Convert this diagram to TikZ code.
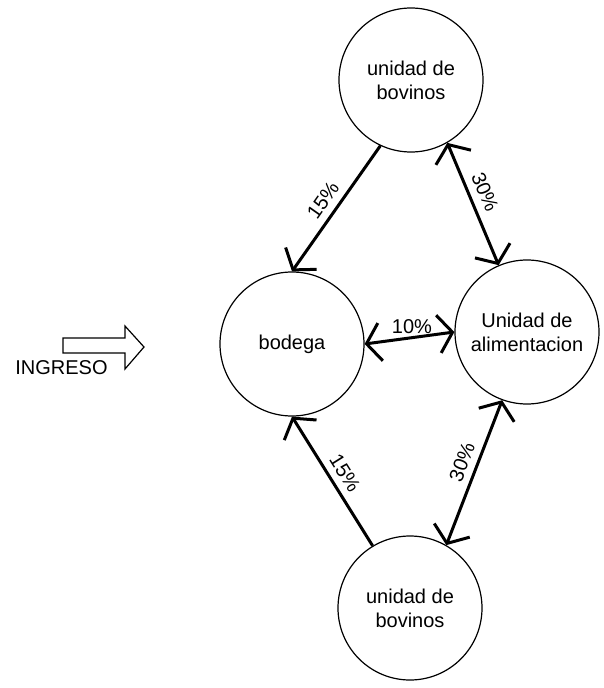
\documentclass[tikz,border=0pt]{standalone}
\usepackage{fontspec}
\setmainfont{Liberation Sans}
\usetikzlibrary{arrows.meta}
\begin{document}
\begin{tikzpicture}[x=1pt,y=-1pt,
  unit/.style={circle,draw,line width=1.2pt,minimum size=144pt,inner sep=0pt,align=center,font=\fontsize{20}{24}\selectfont},
  barb/.tip={Straight Barb[length=14pt,width=38pt]},
  flow/.style={line width=3pt,-barb},
  both/.style={line width=3pt,barb-barb},
  pct/.style={font=\fontsize{20}{24}\selectfont,inner sep=0pt},
  blockarrow/.style={draw,line width=1.2pt,line join=miter}]
\useasboundingbox (0,0) rectangle (603,688);
\node[unit] (top) at (411,80) {unidad de\\bovinos};
\node[unit] (bod) at (292,344) {bodega};
\node[unit] (ali) at (527,332) {Unidad de\\alimentacion};
\node[unit] (bot) at (410,608) {unidad de\\bovinos};

\draw[flow] (top.245) -- (bod.90);
\draw[both] (top.-60) -- (ali.113);
\draw[both] (bod.0) -- (ali.180);
\draw[flow] (bot.121) -- (bod.-90);
\draw[both] (ali.250) -- (bot.60);

\node[pct,rotate=55] (p1) at (323,200) {15\%};
\node[pct,rotate=-67] (p2) at (485,192) {30\%};
\node[pct] (p3) at (412,327) {10\%};
\node[pct,rotate=-58] (p4) at (345,473) {15\%};
\node[pct,rotate=69] (p5) at (462,462) {30\%};

\draw[blockarrow] (63,338) -- (125,338) -- (125,326) -- (144,347) -- (125,369) -- (125,353) -- (63,353) -- cycle;
\node[pct] (ing) at (61.5,367.5) {INGRESO};
\end{tikzpicture}
\end{document}
